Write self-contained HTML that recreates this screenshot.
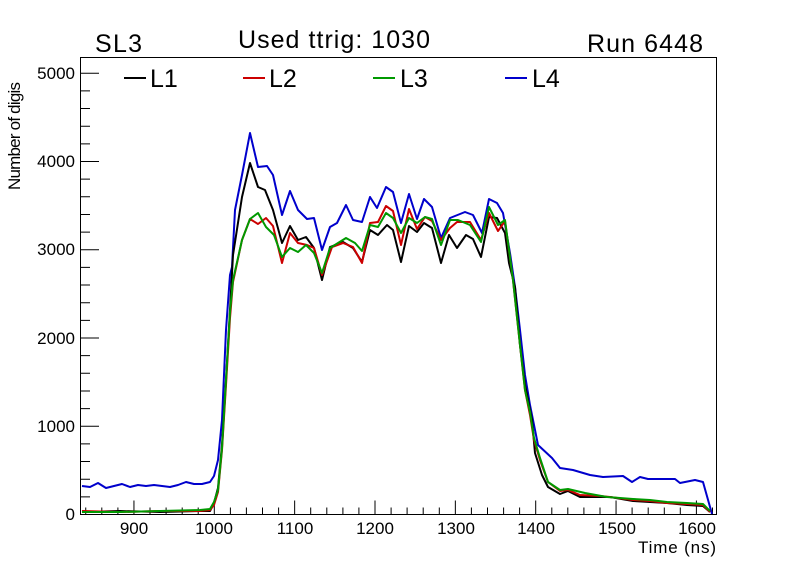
<!DOCTYPE html>
<html><head><meta charset="utf-8"><style>
html,body{margin:0;padding:0;background:#fff;}
svg{display:block;font-family:"Liberation Sans",Arial,sans-serif;}
</style></head><body>
<svg width="796" height="572" viewBox="0 0 796 572" xmlns="http://www.w3.org/2000/svg">
<rect width="796" height="572" fill="#fff"/>
<path stroke="#000" stroke-width="1" fill="none" d="
M80 514.5h19 M80 496.85h10 M80 479.2h10 M80 461.55h10 M80 443.9h10 M80 426.25h19 M80 408.6h10 M80 390.95h10 M80 373.3h10 M80 355.65h10 M80 338h19 M80 320.35h10 M80 302.7h10 M80 285.05h10 M80 267.4h10 M80 249.75h19 M80 232.1h10 M80 214.45h10 M80 196.8h10 M80 179.15h10 M80 161.5h19 M80 143.85h10 M80 126.2h10 M80 108.55h10 M80 90.9h10 M80 73.25h19
M85.74 514.5v-7 M101.8 514.5v-7 M117.9 514.5v-7 M133.95 514.5v-14 M150 514.5v-7 M166.1 514.5v-7 M182.2 514.5v-7 M198.2 514.5v-7 M214.3 514.5v-14 M230.4 514.5v-7 M246.4 514.5v-7 M262.5 514.5v-7 M278.6 514.5v-7 M294.65 514.5v-14 M310.7 514.5v-7 M326.8 514.5v-7 M342.9 514.5v-7 M358.9 514.5v-7 M375 514.5v-14 M391.1 514.5v-7 M407.1 514.5v-7 M423.2 514.5v-7 M439.3 514.5v-7 M455.35 514.5v-14 M471.4 514.5v-7 M487.5 514.5v-7 M503.6 514.5v-7 M519.6 514.5v-7 M535.7 514.5v-14 M551.8 514.5v-7 M567.8 514.5v-7 M583.9 514.5v-7 M600 514.5v-7 M616.05 514.5v-14 M632.1 514.5v-7 M648.2 514.5v-7 M664.3 514.5v-7 M680.3 514.5v-7 M696.4 514.5v-14 M712.5 514.5v-7"/>
<rect x="80.5" y="57.5" width="636" height="457" fill="none" stroke="#000" stroke-width="1"/>
<g fill="none" stroke-width="2" stroke-linejoin="round">
<polyline stroke="#0000cc" points="82,486 90,487 98,483 106,488 114,486 122,484 130,487 138,485 146,486 154,485 162,486 170,487 178,485 186,482 194,484 202,484 210,482 214,476 218,460 222,420 226,330 230,275 232,267 235,210 242,175 250,133 258,167 267,166 273,175 282,215 290,191 298,210 307,219 314,218 322,250 330,227 337,223 346,205 353,220 362,222 370,197 377,208 386,187 393,192 401,223 409,194 417,219 424,199 432,207 441,238 450,218 465,212 473,215 482,233 489,199 497,203 503,213 510,253 515,287 520,330 525,375 530,405 533,420 538,445 552,458 560,468 573,470 590,475 603,477 623,476 632,482 640,477 648,479 675,479 680,483 695,480 703,482 712,514"/>
<polyline stroke="#000" points="82,512 120,511 160,512 200,511 210,511 214,503 218,488 222,445 226,380 230,310 233,255 242,197 250,163 258,187 265,190 273,210 282,243 290,226 298,240 306,237 314,248 322,280 330,247 343,242 353,248 362,262 370,230 378,235 387,225 393,230 401,262 409,226 417,232 424,223 432,228 441,263 449,235 457,248 466,235 473,239 481,257 489,217 497,218 505,233 509,263 515,287 520,345 525,385 530,410 532,420 535,453 542,475 548,487 560,494 568,491 580,497 600,497 610,497 633,501 650,502 667,503 687,505 703,506 710,512"/>
<polyline stroke="#cc0000" points="82,511 120,512 160,511 200,511 210,510 214,505 218,492 222,450 226,385 230,318 233,282 242,240 250,219 258,224 266,218 273,226 282,263 290,233 298,243 307,245 314,248 322,275 332,247 343,243 353,247 362,263 370,223 378,222 386,206 393,211 401,245 409,209 417,229 425,217 432,221 441,240 450,228 457,222 470,222 481,240 489,213 498,231 505,221 513,280 520,345 525,390 530,415 534,440 540,460 548,482 560,491 568,490 580,495 600,496 610,497 633,500 650,501 667,503 687,504 703,505 710,512"/>
<polyline stroke="#009900" points="82,512 120,512 160,511 200,510 210,509 214,502 218,490 222,448 226,380 230,312 233,280 242,240 250,219 258,213 266,227 274,235 282,257 290,248 298,252 306,245 314,253 322,273 330,248 346,238 355,243 362,251 370,225 378,227 386,213 393,218 401,233 409,218 417,223 425,217 432,219 441,245 450,220 458,220 470,225 481,242 489,207 498,225 505,220 513,280 520,345 525,390 530,412 534,438 540,458 548,482 560,490 568,489 585,493 607,497 633,499 650,500 667,502 687,503 703,504 710,511"/>
</g>
<g font-size="17" fill="#000" text-anchor="end">
<text x="75" y="520">0</text>
<text x="75" y="432">1000</text>
<text x="75" y="344">2000</text>
<text x="75" y="255">3000</text>
<text x="75" y="167">4000</text>
<text x="75" y="79">5000</text>
</g>
<g font-size="17" fill="#000" text-anchor="middle">
<text x="134" y="534">900</text>
<text x="214" y="534">1000</text>
<text x="295" y="534">1100</text>
<text x="375" y="534">1200</text>
<text x="456" y="534">1300</text>
<text x="536" y="534">1400</text>
<text x="617" y="534">1500</text>
<text x="697" y="534">1600</text>
</g>
<text x="638" y="553" font-size="17" textLength="78">Time (ns)</text>
<text transform="translate(20,190) rotate(-90)" font-size="17" textLength="108">Number of digis</text>
<text x="95" y="52" font-size="25" textLength="47">SL3</text>
<text x="238" y="48" font-size="25" textLength="192">Used ttrig: 1030</text>
<text x="587" y="52" font-size="25" textLength="116">Run 6448</text>
<g stroke-width="2">
<line x1="124" y1="78" x2="146" y2="78" stroke="#000"/>
<line x1="243" y1="78" x2="265" y2="78" stroke="#cc0000"/>
<line x1="373" y1="78" x2="395" y2="78" stroke="#009900"/>
<line x1="505" y1="78" x2="527" y2="78" stroke="#0000cc"/>
</g>
<g font-size="25">
<text x="150" y="87">L1</text>
<text x="269" y="87">L2</text>
<text x="400" y="87">L3</text>
<text x="532" y="87">L4</text>
</g>
</svg>
</body></html>
